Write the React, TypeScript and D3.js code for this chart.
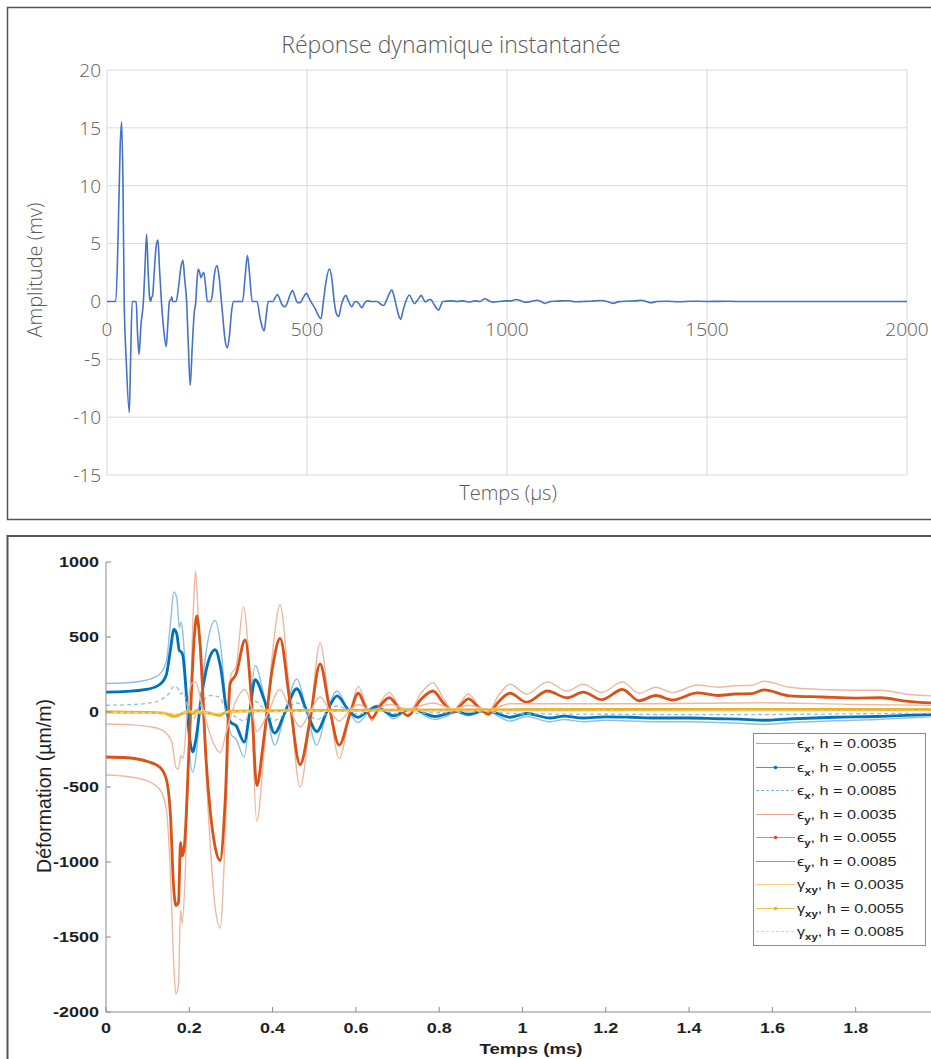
import React from "react";
import * as d3 from "d3";

// ---------- Top chart data (Excel-style) ----------
const topTitle = "Réponse dynamique instantanée";
const topXTicks = [0, 500, 1000, 1500, 2000];
const topYTicks = [-15, -10, -5, 0, 5, 10, 15, 20];
// [time µs, amplitude mV]
const topSignal: [number, number][] = [
  [0, 0], [22, 0], [28, 6], [33, 13.5], [36.7, 15.5], [40, 10], [43, 0], [48, -5], [55.8, -9.6], [59, -5], [63, 0],
  [73, 0], [76, -2.5], [80, -4.6], [85, -2], [91, 0], [95, 3], [99, 5.8], [103, 2.5], [107, 0.2], [109, 0], [111, 0.3],
  [114, 0.5], [118, 2.5], [123, 4.8], [127.5, 5.3], [131, 3], [136, 0], [142, -2.5], [148, -3.9], [152, -2], [156, 0],
  [160, 0.2], [162, 0.4], [164, 0], [173, 0], [178, 1], [185, 3], [190, 3.55], [194, 2], [199, 0], [203, -3.5],
  [208, -7.25], [213, -4], [218, -1], [222, 0], [225, 1.8], [228, 2.8], [231, 2.6], [235, 2.05], [238, 2.3], [242, 2.5],
  [246, 1.5], [251, 0], [258, 0], [263, 0.5], [268, 2.2], [275, 3.1], [280, 2.2], [286, 0], [290, -1.5], [295, -3.3],
  [301, -4.0], [306, -3], [311, -1], [316, 0], [339, 0], [345, 2], [351, 3.97], [356, 2.5], [363, 0], [375, 0],
  [383, -1.5], [388, -2.2], [393, -2.56], [398, -1.2], [403, 0], [415, 0], [420, 0.3], [426, 0.6], [433, 0.1],
  [438, -0.3], [445, -0.46], [452, 0], [458, 0.6], [464, 0.95], [470, 0.4], [476, -0.1], [483, -0.1], [490, 0.3],
  [499, 0.7], [505, 0.3], [512, -0.15], [520, -0.6], [528, -1.2], [535, -1.5], [541, 0], [548, 1.8], [556, 2.8],
  [562, 2.0], [568, 0], [573, -1], [579, -1.3], [586, -0.3], [592, 0.3], [597, 0.52], [604, 0], [612, -0.46],
  [618, -0.1], [623, 0], [630, -0.2], [637, -0.55], [643, -0.2], [650, 0.05], [660, 0], [675, 0], [683, -0.2],
  [691, -0.35], [700, 0.2], [706, 0.7], [712, 0.98], [718, 0.4], [724, -0.5], [730, -1.3], [734, -1.55], [740, -0.8],
  [747, 0], [756, 0.55], [762, 0.2], [769, -0.2], [776, 0.1], [786, 0.52], [791, 0.2], [796, -0.05], [802, 0.1],
  [809, 0.17], [815, -0.1], [822, -0.5], [829, -0.75], [835, -0.3], [840, 0], [860, 0.05], [875, 0], [890, 0.05],
  [905, -0.05], [920, 0.05], [932, 0], [945, 0.23], [955, 0.05], [965, -0.06], [980, 0], [995, 0.05], [1010, 0.05],
  [1022, 0.17], [1035, 0.05], [1045, -0.06], [1060, 0], [1075, 0.1], [1085, 0], [1095, -0.17], [1105, -0.05],
  [1120, 0.02], [1135, 0.05], [1155, 0.06], [1170, -0.03], [1190, 0], [1210, 0.02], [1235, 0.08], [1250, 0],
  [1265, -0.17], [1280, -0.02], [1300, 0.02], [1320, 0.05], [1335, 0.1], [1348, 0], [1360, -0.12], [1375, 0],
  [1400, 0.02], [1430, -0.03], [1460, 0.02], [1500, 0], [1550, 0.01], [1600, -0.01], [1700, 0], [1800, 0],
  [1900, 0], [2000, 0],
];

// ---------- Bottom chart data (MATLAB-style) ----------
const botXTicks = [0, 0.2, 0.4, 0.6, 0.8, 1, 1.2, 1.4, 1.6, 1.8];
const botYTicks = [-2000, -1500, -1000, -500, 0, 500, 1000];

// [time ms, strain µm/m]
const exH35: [number, number][] = [
  [0, 190], [0.05, 195], [0.1, 215], [0.13, 255], [0.145, 340], [0.155, 600], [0.163, 800], [0.17, 760], [0.176, 560],
  [0.18, 600], [0.184, 540], [0.192, 200], [0.2, -250], [0.208, -400], [0.216, -300], [0.228, 100], [0.245, 480],
  [0.262, 610], [0.275, 450], [0.29, 0], [0.3, -150], [0.312, -180], [0.332, -300], [0.345, 0], [0.358, 310],
  [0.38, 100], [0.405, -220], [0.43, 0], [0.458, 220], [0.48, 30], [0.506, -220], [0.53, 0], [0.555, 140], [0.58, 20],
  [0.605, -70], [0.63, 0], [0.65, 45], [0.67, 0], [0.69, -45], [0.72, 5], [0.74, 25], [0.765, -25], [0.79, -50],
  [0.82, -25], [0.84, 0], [0.87, -25], [0.9, 0], [0.917, 5], [0.94, -25], [0.97, -60], [1.01, -30], [1.066, -65],
  [1.1, -50], [1.146, -65], [1.2, -55], [1.26, -60], [1.32, -65], [1.4, -65], [1.47, -70], [1.52, -75], [1.58, -82],
  [1.65, -70], [1.75, -58], [1.85, -50], [1.92, -40], [2.0, -30],
];
const exH55: [number, number][] = [
  [0, 132], [0.05, 137], [0.1, 152], [0.13, 185], [0.145, 250], [0.155, 420], [0.163, 550], [0.17, 520], [0.176, 410],
  [0.181, 400], [0.185, 370], [0.192, 150], [0.2, -150], [0.208, -265], [0.216, -180], [0.228, 80], [0.245, 330],
  [0.262, 415], [0.275, 300], [0.29, 0], [0.3, -70], [0.312, -90], [0.332, -200], [0.345, 0], [0.358, 215],
  [0.38, 80], [0.405, -140], [0.43, 0], [0.458, 155], [0.48, 20], [0.506, -130], [0.53, 0], [0.555, 107], [0.58, 20],
  [0.605, -35], [0.63, 10], [0.65, 35], [0.67, 5], [0.69, -25], [0.72, 10], [0.74, 20], [0.765, -10], [0.79, -30],
  [0.82, -10], [0.84, 5], [0.87, -15], [0.9, 5], [0.917, 10], [0.94, -10], [0.97, -35], [1.01, -10], [1.066, -40],
  [1.1, -28], [1.146, -40], [1.2, -32], [1.26, -35], [1.32, -40], [1.4, -40], [1.47, -45], [1.52, -48], [1.58, -55],
  [1.65, -45], [1.75, -35], [1.85, -30], [1.92, -22], [2.0, -15],
];
const exH85: [number, number][] = [
  [0, 45], [0.05, 48], [0.1, 58], [0.13, 80], [0.15, 120], [0.163, 170], [0.172, 160], [0.18, 120], [0.186, 130],
  [0.195, 40], [0.205, -50], [0.215, -30], [0.23, 60], [0.25, 110], [0.272, 100], [0.29, 0], [0.31, -30],
  [0.332, -60], [0.358, 70], [0.405, -55], [0.458, 60], [0.506, -50], [0.555, 40], [0.605, -15], [0.65, 15],
  [0.7, -10], [0.8, -5], [0.9, 0], [1.0, -12], [1.2, -15], [1.5, -18], [1.8, -12], [2.0, -8],
];
const eyH35: [number, number][] = [
  [0, -420], [0.05, -430], [0.1, -460], [0.13, -520], [0.145, -650], [0.155, -1100], [0.163, -1700], [0.168, -1880],
  [0.174, -1820], [0.179, -1320], [0.183, -1410], [0.19, -1100], [0.2, -200], [0.21, 700], [0.215, 940],
  [0.222, 600], [0.24, -400], [0.262, -1300], [0.274, -1440], [0.288, -700], [0.3, 250], [0.312, 300], [0.33, 700],
  [0.348, 100], [0.362, -730], [0.38, -250], [0.4, 400], [0.418, 715], [0.44, 150], [0.466, -500], [0.49, -60],
  [0.514, 460], [0.535, 80], [0.56, -310], [0.585, -20], [0.606, 170], [0.622, 60], [0.638, -60], [0.658, 60],
  [0.68, 130], [0.705, 30], [0.725, -20], [0.755, 120], [0.785, 195], [0.81, 90], [0.835, 10], [0.85, 60],
  [0.87, 120], [0.895, 40], [0.918, 0], [0.94, 100], [0.97, 185], [1.01, 120], [1.06, 200], [1.107, 140],
  [1.146, 185], [1.19, 130], [1.24, 200], [1.28, 125], [1.32, 165], [1.36, 130], [1.42, 180], [1.47, 165],
  [1.51, 175], [1.55, 178], [1.58, 205], [1.64, 165], [1.72, 150], [1.8, 145], [1.86, 145], [1.92, 120], [2.0, 105],
];
const eyH55: [number, number][] = [
  [0, -300], [0.05, -305], [0.1, -330], [0.13, -370], [0.145, -450], [0.155, -700], [0.162, -1150], [0.168, -1290],
  [0.174, -1270], [0.179, -870], [0.183, -960], [0.188, -900], [0.2, -200], [0.212, 500], [0.218, 640], [0.226, 450],
  [0.24, -300], [0.262, -900], [0.274, -990], [0.286, -600], [0.298, 190], [0.312, 250], [0.334, 480], [0.35, 50],
  [0.362, -490], [0.378, -200], [0.4, 300], [0.418, 490], [0.44, 100], [0.466, -350], [0.49, -50], [0.514, 320],
  [0.535, 50], [0.56, -220], [0.585, -20], [0.606, 125], [0.62, 50], [0.638, -40], [0.658, 40], [0.68, 95],
  [0.705, 20], [0.725, -25], [0.755, 80], [0.785, 140], [0.81, 60], [0.835, 0], [0.85, 40], [0.87, 87], [0.895, 30],
  [0.918, -15], [0.94, 60], [0.97, 125], [1.01, 65], [1.06, 140], [1.107, 95], [1.146, 133], [1.19, 82], [1.24, 150],
  [1.28, 75], [1.32, 110], [1.36, 80], [1.42, 127], [1.47, 110], [1.51, 120], [1.55, 122], [1.58, 147], [1.64, 108],
  [1.72, 100], [1.8, 93], [1.86, 95], [1.92, 73], [2.0, 58],
];
const eyH85: [number, number][] = [
  [0, -80], [0.06, -85], [0.11, -100], [0.14, -130], [0.158, -200], [0.168, -370], [0.174, -380], [0.18, -290],
  [0.185, -310], [0.195, 0], [0.205, 190], [0.215, 200], [0.23, 50], [0.25, -150], [0.274, -270], [0.29, -120],
  [0.31, 60], [0.334, 150], [0.35, 20], [0.362, -130], [0.385, -30], [0.418, 150], [0.44, 30], [0.466, -100],
  [0.49, 0], [0.514, 100], [0.535, 20], [0.56, -60], [0.585, 10], [0.606, 50], [0.638, 10], [0.68, 50], [0.725, 20],
  [0.785, 60], [0.835, 20], [0.87, 45], [0.918, 15], [0.97, 55], [1.1, 55], [1.3, 55], [1.58, 62], [1.8, 50],
  [2.0, 45],
];
const gxyH35: [number, number][] = [
  [0, 3], [0.1, 0], [0.14, -10], [0.16, -35], [0.175, -25], [0.2, 10], [0.215, -15], [0.23, 10], [0.26, -15],
  [0.272, -30], [0.3, 8], [0.5, 15], [1.0, 20], [1.5, 22], [2.0, 20],
];
const gxyH55: [number, number][] = [
  [0, 0], [0.1, -2], [0.14, -8], [0.155, -22], [0.165, -27], [0.175, -20], [0.185, -8], [0.2, 5], [0.21, -10],
  [0.218, 12], [0.226, -8], [0.24, -5], [0.26, -15], [0.272, -22], [0.285, -5], [0.3, 5], [0.4, 8], [0.5, 10],
  [0.7, 12], [1.0, 15], [1.5, 17], [2.0, 16],
];
const gxyH85: [number, number][] = [
  [0, -2], [0.15, -8], [0.17, -12], [0.2, 2], [0.27, -8], [0.3, 3], [0.6, 5], [1.0, 8], [2.0, 8],
];

const legendSymbols = ["ϵ", "ϵ", "ϵ", "ϵ", "ϵ", "ϵ", "γ", "γ", "γ"];
const legendSubs = ["x", "x", "x", "y", "y", "y", "xy", "xy", "xy"];
const legendH = ["0.0035", "0.0055", "0.0085", "0.0035", "0.0055", "0.0085", "0.0035", "0.0055", "0.0085"];

const BLUE = "#0072BD";
const LBLUE = "#8fc0e2";
const ORANGE = "#D95319";
const LORANGE = "#eeb9a1";
const YELLOW = "#EDB120";
const LYELLOW = "#f4d48c";

type Style = { color: string; legColor: string; width: number; dash?: string; marker?: boolean };
const series: { data: [number, number][]; style: Style }[] = [
  { data: exH35, style: { color: LBLUE, legColor: "#7db5dc", width: 1.4 } },
  { data: exH55, style: { color: BLUE, legColor: "#4a96ce", width: 2.8, marker: true } },
  { data: exH85, style: { color: LBLUE, legColor: "#7fb6dc", width: 1.3, dash: "4,3" } },
  { data: eyH35, style: { color: LORANGE, legColor: "#eaa98c", width: 1.4 } },
  { data: eyH55, style: { color: ORANGE, legColor: "#e48d68", width: 2.8, marker: true } },
  { data: eyH85, style: { color: LORANGE, legColor: "#df7a52", width: 1.4 } },
  { data: gxyH35, style: { color: LYELLOW, legColor: "#f2cd7a", width: 1.4 } },
  { data: gxyH55, style: { color: YELLOW, legColor: "#efc25c", width: 2.8, marker: true } },
  { data: gxyH85, style: { color: LYELLOW, legColor: "#f2d58f", width: 1.3, dash: "4,3" } },
];

export default function App() {
  // Top scales
  const xT = d3.scaleLinear().domain([0, 2000]).range([107, 907]);
  const yT = d3.scaleLinear().domain([-15, 20]).range([475, 70]);
  const topLine = d3
    .line<[number, number]>()
    .x((d) => xT(d[0]))
    .y((d) => yT(d[1]))
    .curve(d3.curveMonotoneX);

  // Bottom scales
  const xB = d3.scaleLinear().domain([0, 2]).range([106, 939]);
  const yB = d3.scaleLinear().domain([-2000, 1000]).range([1012, 562]);
  const botLine = d3
    .line<[number, number]>()
    .x((d) => xB(d[0]))
    .y((d) => yB(d[1]))
    .curve(d3.curveMonotoneX);

  const excelFont = "'Open Sans', 'Liberation Sans', sans-serif";
  const matFont = "'Liberation Sans', Arial, Helvetica, sans-serif";
  const gray = "#595959";
  const ink = "#1f1f1f";
  const SX = 1.2; // horizontal stretch of the bottom figure's text

  const legX = 753;
  const legY = 733;
  const legW = 172;
  const legH = 212;
  const rowY = (i: number) => Math.round(743 + i * 23.5) + 0.5;

  return (
    <svg
      width={931}
      height={1059}
      viewBox="0 0 931 1059"
      style={{ position: "absolute", left: 0, top: 0, background: "#fff" }}
    >
      <rect x={0} y={0} width={931} height={1059} fill="#fff" />
      {/* ---------- TOP PANEL ---------- */}
      <rect x={7.5} y={7.5} width={1000} height={512} fill="#fff" stroke="#555" strokeWidth={1.5} />
      <text x={451} y={53} textAnchor="middle" fontFamily={excelFont} fontWeight={300} fontSize={23} fill={gray}>
        {topTitle}
      </text>
      <g>
        {topYTicks.map((t) => (
          <line key={"gy" + t} x1={107} x2={907} y1={yT(t)} y2={yT(t)} stroke="#d9d9d9" strokeWidth={1} />
        ))}
        {topXTicks.map((t) => (
          <line key={"gx" + t} x1={xT(t)} x2={xT(t)} y1={70} y2={475} stroke="#d9d9d9" strokeWidth={1} />
        ))}
      </g>
      <path d={topLine(topSignal) || ""} fill="none" stroke="#4472C4" strokeWidth={1.6} strokeLinejoin="round" />
      {topYTicks.map((t) => (
        <text key={"ty" + t} x={101} y={yT(t)} dy="0.36em" textAnchor="end" fontFamily={excelFont} fontWeight={300} fontSize={19} fill={gray}>
          {t}
        </text>
      ))}
      {topXTicks.map((t) => (
        <text key={"tx" + t} x={xT(t)} y={yT(0) + 35} textAnchor="middle" fontFamily={excelFont} fontWeight={300} fontSize={19} fill={gray}>
          {t}
        </text>
      ))}
      <text
        transform={`translate(42,270) rotate(-90)`}
        textAnchor="middle"
        fontFamily={excelFont}
        fontWeight={300}
        fontSize={20}
        fill={gray}
      >
        Amplitude (mv)
      </text>
      <text x={508} y={500} textAnchor="middle" fontFamily={excelFont} fontWeight={300} fontSize={20} fill={gray}>
        Temps (µs)
      </text>

      {/* ---------- BOTTOM PANEL ---------- */}
      <rect x={7.5} y={536} width={1000} height={600} fill="#fff" stroke="#555" strokeWidth={2} />
      <g>
        {series.map((s, i) => (
          <path
            key={"s" + i}
            d={botLine(s.data) || ""}
            fill="none"
            stroke={s.style.color}
            strokeWidth={s.style.width}
            strokeDasharray={s.style.dash}
            strokeLinejoin="round"
          />
        ))}
      </g>
      {/* axes */}
      <line x1={106} x2={106} y1={562} y2={1012} stroke="#8a8a8a" strokeWidth={1} />
      <line x1={106} x2={931} y1={1012} y2={1012} stroke="#8a8a8a" strokeWidth={1} />
      {botYTicks.map((t) => (
        <g key={"by" + t}>
          <line x1={106} x2={111} y1={yB(t)} y2={yB(t)} stroke="#8a8a8a" />
          <text
            transform={`translate(99,${yB(t)}) scale(${SX},1)`}
            dy="0.36em"
            textAnchor="end"
            fontFamily={matFont}
            fontWeight="bold"
            fontSize={15}
            fill={ink}
          >
            {t}
          </text>
        </g>
      ))}
      {botXTicks.map((t) => (
        <g key={"bx" + t}>
          <line x1={xB(t)} x2={xB(t)} y1={1012} y2={1007} stroke="#8a8a8a" />
          <text
            transform={`translate(${xB(t)},1033) scale(${SX},1)`}
            textAnchor="middle"
            fontFamily={matFont}
            fontWeight="bold"
            fontSize={15}
            fill={ink}
          >
            {t}
          </text>
        </g>
      ))}
      <text
        transform={`translate(51,786) rotate(-90)`}
        textAnchor="middle"
        fontFamily={matFont}
        fontSize={19.5}
        fill={ink}
      >
        Déformation (µm/m)
      </text>
      <text
        transform={`translate(531,1054) scale(${SX},1)`}
        textAnchor="middle"
        fontFamily={matFont}
        fontWeight="bold"
        fontSize={15.5}
        fill={ink}
      >
        Temps (ms)
      </text>

      {/* legend */}
      <rect x={legX + 0.5} y={legY + 0.5} width={legW} height={legH} fill="#fff" stroke="#8a8a8a" strokeWidth={1} />
      {series.map((s, i) => (
        <g key={"lg" + i}>
          <line
            x1={756}
            x2={795}
            y1={rowY(i)}
            y2={rowY(i)}
            stroke={s.style.legColor}
            strokeWidth={1}
            strokeDasharray={s.style.dash ? "3,2" : undefined}
          />
          {s.style.marker && <circle cx={775.5} cy={rowY(i)} r={1.8} fill={s.style.color} />}
          <text
            transform={`translate(797,${rowY(i) + 4.5}) scale(${SX},1)`}
            fontFamily={matFont}
            fontSize={13.5}
            fill={ink}
          >
            {legendSymbols[i]}
            <tspan dy={4} fontSize={9.5} fontWeight="bold">
              {legendSubs[i]}
            </tspan>
            <tspan dy={-4}>{", h = " + legendH[i]}</tspan>
          </text>
        </g>
      ))}
    </svg>
  );
}
